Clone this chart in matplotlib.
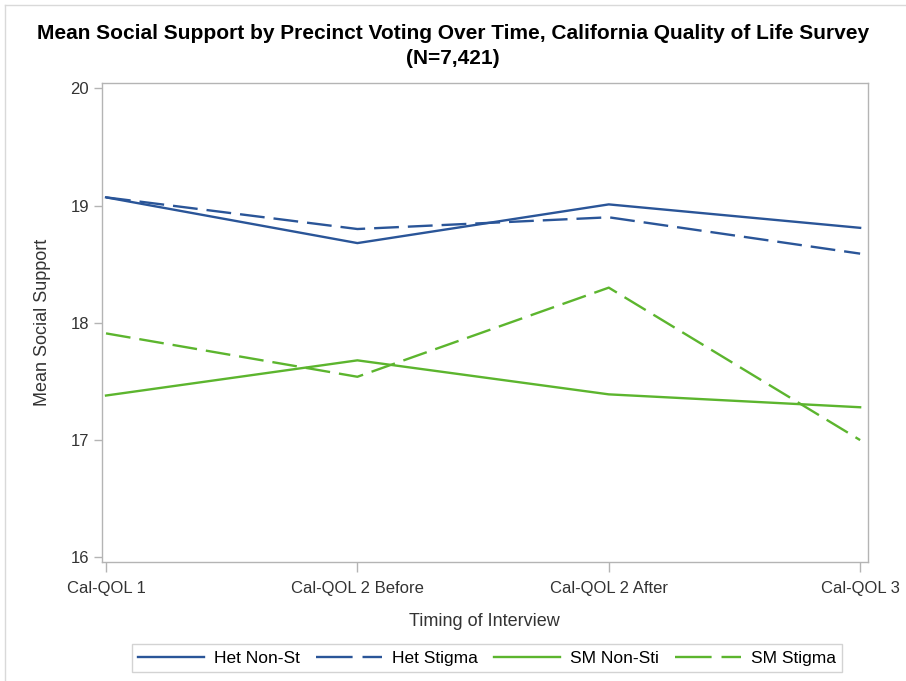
import matplotlib
matplotlib.use("Agg")
import matplotlib.pyplot as plt
from matplotlib.lines import Line2D

plt.rcParams['font.family'] = ['Liberation Sans', 'DejaVu Sans']

# Data
timepoints = ["Cal-QOL 1", "Cal-QOL 2 Before", "Cal-QOL 2 After", "Cal-QOL 3"]
het_non_st = [19.07, 18.68, 19.01, 18.81]
het_stigma = [19.07, 18.80, 18.90, 18.59]
sm_non_sti = [17.38, 17.68, 17.39, 17.28]
sm_stigma = [17.91, 17.54, 18.30, 17.00]
series_names = ["Het Non-St", "Het Stigma", "SM Non-Sti", "SM Stigma"]
y_ticks = [16, 17, 18, 19, 20]

blue = "#2a5598"
green = "#5cb52e"
lw = 1.7
dash = (0, (10.5, 3.8))
legend_dash = (0, (15.5, 4.2))

fig = plt.figure(figsize=(9.06, 6.81), dpi=100)
ax = fig.add_axes([0.1123, 0.1752, 0.8454, 0.7034])

x = list(range(len(timepoints)))
ax.plot(x, het_non_st, color=blue, lw=lw)
ax.plot(x, het_stigma, color=blue, lw=lw, linestyle=dash)
ax.plot(x, sm_non_sti, color=green, lw=lw)
ax.plot(x, sm_stigma, color=green, lw=lw, linestyle=dash)

ax.set_xlim(-0.017, 3.03)
ax.set_ylim(15.963, 20.048)
ax.set_xticks(x)
ax.set_xticklabels(timepoints, fontsize=12, color="#333333")
ax.set_yticks(y_ticks)
ax.set_yticklabels([str(v) for v in y_ticks], fontsize=12, color="#333333")

for s in ax.spines.values():
    s.set_color("#b4b4b4")
    s.set_linewidth(1.0)
ax.tick_params(axis="x", direction="out", length=7, width=1, color="#b4b4b4", pad=7)
ax.tick_params(axis="y", direction="out", length=6, width=1, color="#b4b4b4", pad=3)

ax.set_xlabel("Timing of Interview", fontsize=13, color="#333333", labelpad=12)
ax.set_ylabel("Mean Social Support", fontsize=13, color="#333333", labelpad=14)

fig.suptitle("Mean Social Support by Precinct Voting Over Time, California Quality of Life Survey\n(N=7,421)",
             fontsize=15, fontweight="bold", y=1 - 24 / 681, linespacing=1.4)

# legend uses proxy handles so the dashed sample looks like the reference (long dash, short dash)
handles = [
    Line2D([], [], color=blue, lw=lw),
    Line2D([], [], color=blue, lw=lw, linestyle=legend_dash),
    Line2D([], [], color=green, lw=lw),
    Line2D([], [], color=green, lw=lw, linestyle=legend_dash),
]
leg = fig.legend(handles, series_names, loc="center", ncol=4, fontsize=12.5,
                 frameon=True, fancybox=False, handlelength=3.8, columnspacing=0.9,
                 handletextpad=0.6, borderpad=0.35)
leg.set_bbox_to_anchor((487 / 906, 1 - 658 / 681), transform=fig.transFigure)
leg.get_frame().set_edgecolor("#c8c8c8")
leg.get_frame().set_linewidth(1.0)

# faint outer border seen on the top and left edges
fig.add_artist(Line2D([5 / 906, 1], [1 - 5 / 681, 1 - 5 / 681], color="#d9d9d9", lw=1))
fig.add_artist(Line2D([5 / 906, 5 / 906], [0, 1 - 5 / 681], color="#d9d9d9", lw=1))

fig.savefig("out.png", dpi=100)
